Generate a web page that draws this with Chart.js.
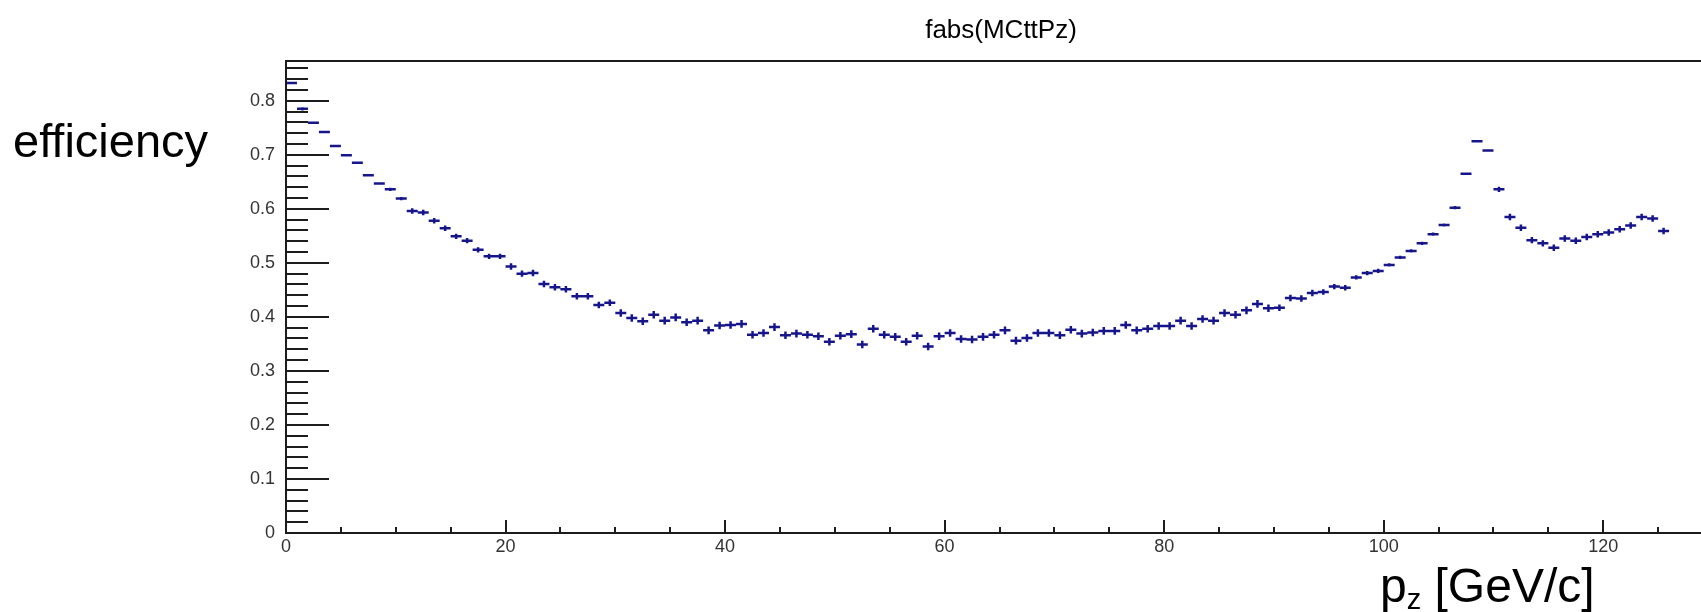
<!DOCTYPE html>
<html lang="en">
<head>
<meta charset="UTF-8">
<title>fabs(MCttPz)</title>
<script src="https://cdn.jsdelivr.net/npm/chart.js"></script>
<style>
  body { margin: 0; background: #fff; overflow: hidden; }
  #wrap { width: 1701px; height: 612px; overflow: hidden; position: relative; }
  #eff { position: absolute; left: 0; top: 0; }
</style>
</head>
<body>
<div id="wrap"><canvas id="eff" width="1740" height="612"></canvas></div>
<script>
// histogram bins, 1 GeV/c wide
const binWidth = 1;
const binCenters = [
  0.5, 1.5, 2.5, 3.5, 4.5, 5.5, 6.5, 7.5, 8.5, 9.5, 10.5, 11.5, 12.5, 13.5, 14.5, 15.5, 16.5, 17.5, 18.5, 19.5,
  20.5, 21.5, 22.5, 23.5, 24.5, 25.5, 26.5, 27.5, 28.5, 29.5, 30.5, 31.5, 32.5, 33.5, 34.5, 35.5, 36.5, 37.5, 38.5, 39.5,
  40.5, 41.5, 42.5, 43.5, 44.5, 45.5, 46.5, 47.5, 48.5, 49.5, 50.5, 51.5, 52.5, 53.5, 54.5, 55.5, 56.5, 57.5, 58.5, 59.5,
  60.5, 61.5, 62.5, 63.5, 64.5, 65.5, 66.5, 67.5, 68.5, 69.5, 70.5, 71.5, 72.5, 73.5, 74.5, 75.5, 76.5, 77.5, 78.5, 79.5,
  80.5, 81.5, 82.5, 83.5, 84.5, 85.5, 86.5, 87.5, 88.5, 89.5, 90.5, 91.5, 92.5, 93.5, 94.5, 95.5, 96.5, 97.5, 98.5, 99.5,
  100.5, 101.5, 102.5, 103.5, 104.5, 105.5, 106.5, 107.5, 108.5, 109.5, 110.5, 111.5, 112.5, 113.5, 114.5, 115.5, 116.5, 117.5, 118.5, 119.5,
  120.5, 121.5, 122.5, 123.5, 124.5, 125.5
];

// efficiency per bin
const efficiency = [
  0.833, 0.785, 0.759, 0.742, 0.716, 0.699, 0.685, 0.662, 0.647, 0.636,
  0.619, 0.596, 0.593, 0.578, 0.564, 0.549, 0.541, 0.524, 0.512, 0.512,
  0.493, 0.480, 0.481, 0.461, 0.455, 0.451, 0.438, 0.438, 0.422, 0.426,
  0.407, 0.398, 0.392, 0.404, 0.393, 0.399, 0.390, 0.393, 0.375, 0.384,
  0.385, 0.387, 0.367, 0.370, 0.381, 0.366, 0.369, 0.367, 0.364, 0.354,
  0.365, 0.368, 0.349, 0.378, 0.367, 0.363, 0.354, 0.365, 0.345, 0.364,
  0.370, 0.359, 0.358, 0.363, 0.367, 0.375, 0.356, 0.361, 0.370, 0.370,
  0.366, 0.376, 0.369, 0.371, 0.374, 0.374, 0.385, 0.375, 0.378, 0.383,
  0.383, 0.393, 0.383, 0.396, 0.393, 0.407, 0.404, 0.412, 0.424, 0.416,
  0.417, 0.435, 0.434, 0.444, 0.446, 0.456, 0.454, 0.473, 0.481, 0.485,
  0.496, 0.510, 0.522, 0.536, 0.553, 0.570, 0.602, 0.665, 0.725, 0.708,
  0.636, 0.585, 0.565, 0.542, 0.536, 0.528, 0.545, 0.541, 0.548, 0.553,
  0.556, 0.562, 0.569, 0.585, 0.582, 0.559
];

// statistical error on each bin
const effError = [
  0.002, 0.003, 0.002, 0.002, 0.002, 0.002, 0.002, 0.002, 0.002, 0.003,
  0.003, 0.005, 0.005, 0.005, 0.005, 0.005, 0.005, 0.005, 0.005, 0.005,
  0.006, 0.006, 0.006, 0.006, 0.006, 0.006, 0.006, 0.006, 0.006, 0.006,
  0.007, 0.007, 0.007, 0.007, 0.007, 0.007, 0.007, 0.007, 0.007, 0.007,
  0.007, 0.007, 0.007, 0.007, 0.007, 0.007, 0.007, 0.007, 0.007, 0.007,
  0.007, 0.007, 0.007, 0.007, 0.007, 0.007, 0.007, 0.007, 0.007, 0.007,
  0.007, 0.007, 0.007, 0.007, 0.007, 0.007, 0.007, 0.007, 0.007, 0.007,
  0.007, 0.007, 0.007, 0.007, 0.007, 0.007, 0.007, 0.007, 0.007, 0.007,
  0.007, 0.007, 0.007, 0.007, 0.007, 0.007, 0.007, 0.007, 0.007, 0.007,
  0.006, 0.006, 0.006, 0.006, 0.005, 0.005, 0.005, 0.004, 0.004, 0.004,
  0.003, 0.003, 0.003, 0.003, 0.003, 0.003, 0.003, 0.002, 0.002, 0.002,
  0.005, 0.006, 0.006, 0.006, 0.006, 0.006, 0.006, 0.006, 0.006, 0.006,
  0.006, 0.006, 0.006, 0.006, 0.006, 0.006
];

const xMin = 0, xMax = 130;
const yMin = 0, yMax = 0.8735;
const xMajor = 20, xMinor = 5;
const yMajor = 0.1, yMinor = 0.02;

const plotTitle = 'fabs(MCttPz)';
const yTitle = 'efficiency';

const FONT = '"Liberation Sans", Arial, Helvetica, sans-serif';
const INK = '#1c1c1c';
const MARKER = '#16168a';

function onStep(v, step) {
  const r = v / step;
  return Math.abs(r - Math.round(r)) < 1e-6;
}

// ROOT-like frame: inward ticks, error-bar markers, free text
const rootStyle = {
  id: 'rootStyle',
  afterDatasetsDraw(chart) {
    const { ctx, chartArea: a, scales: { x, y } } = chart;
    ctx.save();

    // error bars
    ctx.strokeStyle = MARKER;
    ctx.lineWidth = 2.5;
    ctx.beginPath();
    binCenters.forEach((c, i) => {
      const px = x.getPixelForValue(c);
      const py = y.getPixelForValue(efficiency[i]);
      ctx.moveTo(x.getPixelForValue(c - binWidth / 2), py);
      ctx.lineTo(x.getPixelForValue(c + binWidth / 2), py);
      ctx.moveTo(px, y.getPixelForValue(efficiency[i] + effError[i]));
      ctx.lineTo(px, y.getPixelForValue(efficiency[i] - effError[i]));
    });
    ctx.stroke();

    // frame
    ctx.strokeStyle = INK;
    ctx.lineWidth = 2;
    ctx.strokeRect(a.left, a.top, a.right - a.left, a.bottom - a.top);

    // y ticks
    ctx.beginPath();
    y.ticks.forEach(t => {
      const py = Math.round(y.getPixelForValue(t.value));
      const len = onStep(t.value, yMajor) ? 43 : 22;
      ctx.moveTo(a.left, py);
      ctx.lineTo(a.left + len, py);
    });
    // x ticks
    x.ticks.forEach(t => {
      const px = Math.round(x.getPixelForValue(t.value));
      const len = onStep(t.value, xMajor) ? 13 : 6;
      ctx.moveTo(px, a.bottom);
      ctx.lineTo(px, a.bottom - len);
    });
    ctx.stroke();

    // titles
    ctx.fillStyle = '#000';
    ctx.textBaseline = 'alphabetic';
    ctx.textAlign = 'center';
    ctx.font = '26px ' + FONT;
    ctx.fillText(plotTitle, 1001, 38);

    ctx.textAlign = 'left';
    ctx.font = '47px ' + FONT;
    ctx.fillText(yTitle, 13, 157);

    // p_z [GeV/c]
    let tx = 1380;
    const base = 602;
    ctx.font = '48px ' + FONT;
    ctx.fillText('p', tx, base);
    tx += ctx.measureText('p').width;
    ctx.font = '29px ' + FONT;
    ctx.fillText('z', tx, base + 7);
    tx += ctx.measureText('z').width;
    ctx.font = '48px ' + FONT;
    ctx.fillText(' [GeV/c]', tx, base);

    ctx.restore();
  }
};

new Chart(document.getElementById('eff'), {
  type: 'scatter',
  data: {
    datasets: [{
      label: 'efficiency',
      data: binCenters.map((c, i) => ({ x: c, y: efficiency[i] })),
      pointRadius: 0,
      showLine: false
    }]
  },
  options: {
    responsive: false,
    animation: false,
    devicePixelRatio: 1,
    layout: { padding: { top: 61, right: 27, bottom: 0, left: 0 } },
    plugins: { legend: { display: false }, tooltip: { enabled: false } },
    scales: {
      x: {
        type: 'linear',
        min: xMin,
        max: xMax,
        afterFit(scale) { scale.height = 79; },
        grid: { display: false, drawTicks: false },
        border: { display: false },
        ticks: {
          stepSize: xMinor,
          autoSkip: false,
          includeBounds: false,
          maxRotation: 0,
          padding: 3,
          color: '#333',
          font: { family: FONT, size: 18 },
          callback: v => onStep(v, xMajor) ? String(v) : ''
        }
      },
      y: {
        type: 'linear',
        min: yMin,
        max: yMax,
        afterFit(scale) { scale.width = 286; },
        grid: { display: false, drawTicks: false },
        border: { display: false },
        ticks: {
          stepSize: yMinor,
          autoSkip: false,
          includeBounds: false,
          padding: 11,
          color: '#333',
          font: { family: FONT, size: 18 },
          callback: v => onStep(v, yMajor) ? String(Math.round(v * 10) / 10) : ''
        }
      }
    }
  },
  plugins: [rootStyle]
});
</script>
</body>
</html>
